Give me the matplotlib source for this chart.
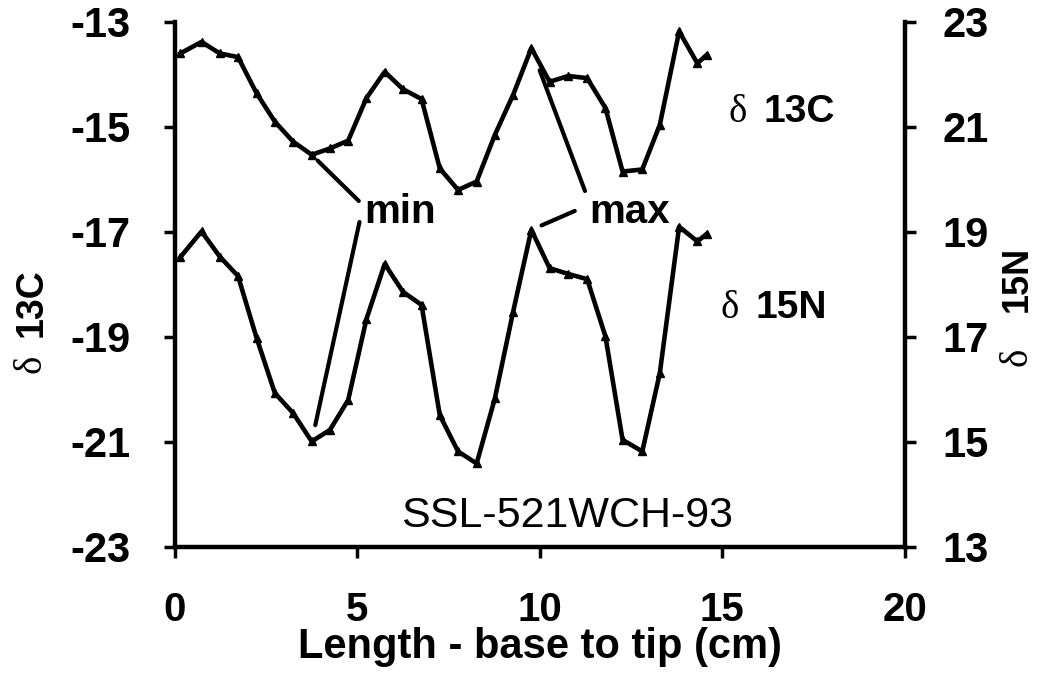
import numpy as np
import matplotlib.pyplot as plt

# Длина (см) и изотопные значения
length = [0.15, 0.73, 1.23, 1.73, 2.24, 2.74, 3.24, 3.75, 4.25, 4.75,
          5.25, 5.75, 6.25, 6.76, 7.26, 7.76, 8.27, 8.77, 9.27, 9.77,
          10.27, 10.78, 11.3, 11.8, 12.27, 12.81, 13.29, 13.82, 14.32, 14.57]
d13c = [-13.60, -13.38, -13.60, -13.67, -14.36, -14.90, -15.28, -15.53, -15.41, -15.26,
        -14.45, -13.95, -14.28, -14.47, -15.79, -16.20, -16.04, -15.15, -14.39, -13.50,
        -14.14, -14.03, -14.07, -14.64, -15.85, -15.81, -14.96, -13.18, -13.79, -13.63]
d15n = [18.52, 19.01, 18.53, 18.16, 16.98, 15.93, 15.55, 15.01, 15.23, 15.80,
        17.34, 18.39, 17.86, 17.61, 15.51, 14.82, 14.59, 15.83, 17.48, 19.04,
        18.31, 18.20, 18.10, 17.01, 15.04, 14.82, 16.31, 19.10, 18.82, 18.96]

xticks = [0, 5, 10, 15, 20]
yticks_c = [-23, -21, -19, -17, -15, -13]
yticks_n = [13, 15, 17, 19, 21, 23]
i_min = 7
i_max = 19

sans = ['Liberation Sans', 'DejaVu Sans']
serif = ['Liberation Serif', 'DejaVu Serif']

fig = plt.figure(figsize=(10.41, 6.85), dpi=100)
ax = fig.add_axes([0.168, 0.2015, 0.701, 0.7665])
ax2 = ax.twinx()

ax.plot(length, d13c, color='black', lw=3.3, marker='^', ms=6)
ax2.plot(length, d15n, color='black', lw=3.3, marker='^', ms=6)

ax.set_xlim(0, 20)
ax.set_ylim(-23, -13)
ax2.set_ylim(13, 23)
ax.set_xticks(xticks)
ax.set_yticks(yticks_c)
ax2.set_yticks(yticks_n)

for a in (ax, ax2):
    a.spines['top'].set_visible(False)
    for s in ('left', 'right', 'bottom'):
        a.spines[s].set_linewidth(3.2)
    a.tick_params(width=2.5, length=8, direction='out')
ax.spines['right'].set_visible(False)
ax2.spines['left'].set_visible(False)
ax2.spines['bottom'].set_visible(False)

ax.set_xticklabels([str(t) for t in xticks], family=sans, fontweight='bold', fontsize=29)
ax.set_yticklabels([str(t) for t in yticks_c], family=sans, fontweight='bold', fontsize=30)
ax2.set_yticklabels([str(t) for t in yticks_n], family=sans, fontweight='bold', fontsize=30)
ax.tick_params(axis='x', pad=24)
ax.tick_params(axis='y', pad=24)
ax2.tick_params(axis='y', pad=19)

ax.set_xlabel('Length - base to tip (cm)', family=sans, fontweight='bold',
              fontsize=30, labelpad=-2)

# подписи осей Y: δ отдельно (шрифт с засечками)
fig.text(0.03, 0.482, 'δ', rotation=90, ha='center', va='top', family=serif, fontsize=28)
fig.text(0.03, 0.508, '13C', rotation=90, ha='center', va='bottom', family=sans,
         fontweight='bold', fontsize=27)
fig.text(0.977, 0.492, 'δ', rotation=90, ha='center', va='top', family=serif, fontsize=28)
fig.text(0.977, 0.545, '15N', rotation=90, ha='center', va='bottom', family=sans,
         fontweight='bold', fontsize=26)

# подписи кривых
ax.text(0.758, 0.81, 'δ', transform=ax.transAxes, family=serif, fontsize=28, va='baseline')
ax.text(0.806, 0.81, '13C', transform=ax.transAxes, family=sans, fontweight='bold',
        fontsize=28, va='baseline')
ax.text(0.747, 0.436, 'δ', transform=ax.transAxes, family=serif, fontsize=28, va='baseline')
ax.text(0.795, 0.436, '15N', transform=ax.transAxes, family=sans, fontweight='bold',
        fontsize=28, va='baseline')

ax.text(0.308, 0.617, 'min', transform=ax.transAxes, family=sans, fontweight='bold',
        fontsize=29, ha='center', va='baseline')
ax.text(0.623, 0.617, 'max', transform=ax.transAxes, family=sans, fontweight='bold',
        fontsize=29, ha='center', va='baseline')
ax.text(0.538, 0.038, 'SSL-521WCH-93', transform=ax.transAxes, family=sans,
        fontsize=31, ha='center', va='baseline')

lp = dict(arrowstyle='-', lw=3, color='black', shrinkA=0)
ax.annotate('', xy=(length[i_min], d13c[i_min]), xycoords=ax.transData,
            xytext=(0.252, 0.659), textcoords=ax.transAxes,
            arrowprops=dict(lp, shrinkB=6))
ax.annotate('', xy=(length[i_min], d15n[i_min]), xycoords=ax2.transData,
            xytext=(0.253, 0.619), textcoords=ax.transAxes,
            arrowprops=dict(lp, shrinkB=12))
ax.annotate('', xy=(length[i_max], d13c[i_max]), xycoords=ax.transData,
            xytext=(0.562, 0.678), textcoords=ax.transAxes,
            arrowprops=dict(lp, shrinkB=17))
ax.annotate('', xy=(length[i_max], d15n[i_max]), xycoords=ax2.transData,
            xytext=(0.548, 0.64), textcoords=ax.transAxes,
            arrowprops=dict(lp, shrinkB=8))

fig.savefig('out.png', dpi=100)
